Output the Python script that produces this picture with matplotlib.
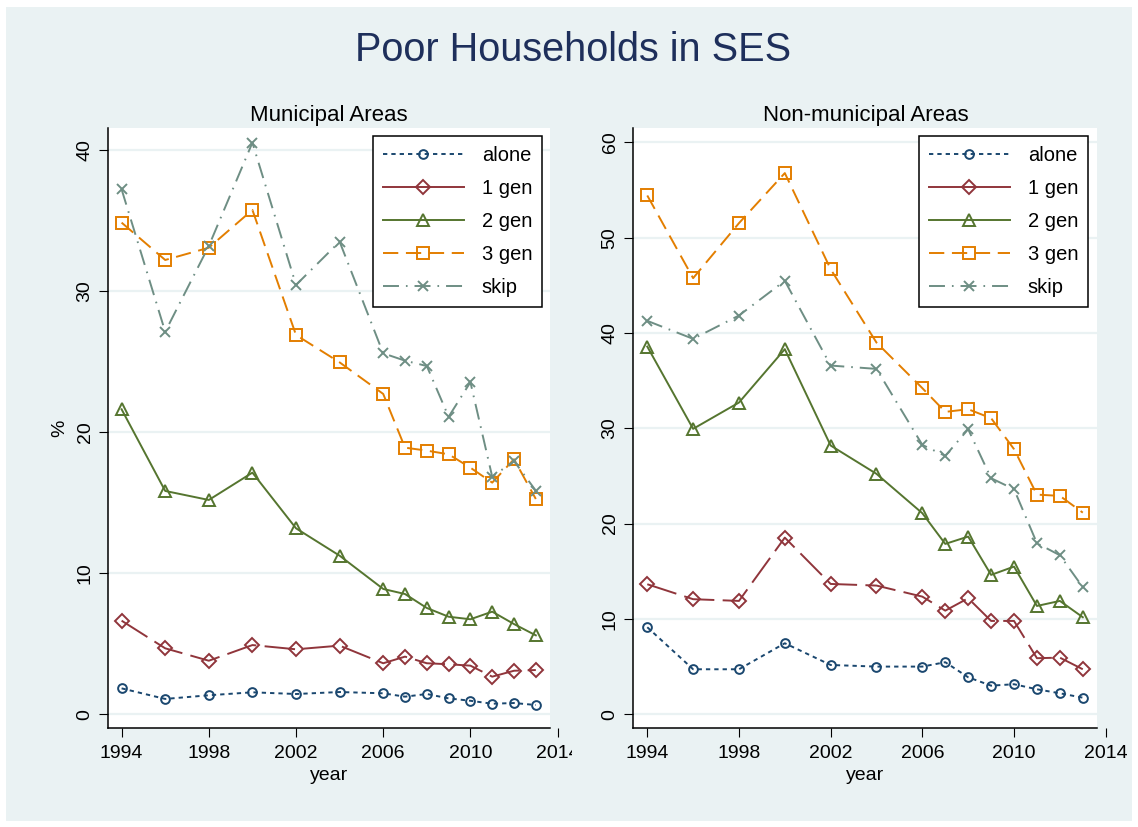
import numpy as np
import matplotlib.pyplot as plt
from matplotlib.patches import Rectangle
from matplotlib.lines import Line2D
from matplotlib.transforms import Bbox, TransformedBbox

plt.rcParams['font.family'] = ['Liberation Sans', 'DejaVu Sans']
plt.rcParams['lines.scale_dashes'] = False

# ---- data ----
years = [1994, 1996, 1998, 2000, 2002, 2004, 2006, 2007, 2008, 2009, 2010, 2011, 2012, 2013]
series_names = ['alone', '1 gen', '2 gen', '3 gen', 'skip']

muni_alone = [1.84, 1.09, 1.35, 1.56, 1.44, 1.58, 1.49, 1.25, 1.44, 1.13, 0.96, 0.75, 0.80, 0.66]
muni_gen1 = [6.64, 4.68, 3.80, 4.91, 4.61, 4.87, 3.62, 4.09, 3.62, 3.55, 3.45, 2.67, 3.09, 3.14]
muni_gen2 = [21.63, 15.84, 15.20, 17.14, 13.19, 11.25, 8.89, 8.53, 7.54, 6.92, 6.74, 7.28, 6.40, 5.60]
muni_gen3 = [34.87, 32.22, 33.09, 35.77, 26.90, 24.96, 22.72, 18.91, 18.70, 18.44, 17.49, 16.43, 18.09, 15.27]
muni_skip = [37.23, 27.13, 33.21, 40.54, 30.45, 33.52, 25.60, 25.08, 24.70, 21.10, 23.55, 16.85, 17.96, 15.86]

nonmuni_alone = [9.13, 4.72, 4.72, 7.45, 5.17, 5.00, 5.00, 5.46, 3.88, 3.00, 3.15, 2.62, 2.20, 1.74]
nonmuni_gen1 = [13.64, 12.07, 11.89, 18.53, 13.67, 13.50, 12.34, 10.87, 12.17, 9.79, 9.79, 5.88, 5.94, 4.72]
nonmuni_gen2 = [38.57, 29.94, 32.70, 38.30, 28.19, 25.22, 21.09, 17.87, 18.64, 14.62, 15.49, 11.36, 11.89, 10.18]
nonmuni_gen3 = [54.42, 45.75, 51.52, 56.77, 46.69, 38.99, 34.21, 31.72, 32.00, 31.06, 27.81, 23.04, 22.91, 21.15]
nonmuni_skip = [41.27, 39.38, 41.83, 45.47, 36.58, 36.23, 28.26, 27.10, 29.90, 24.76, 23.61, 17.94, 16.68, 13.33]

xticks = [1994, 1998, 2002, 2006, 2010, 2014]
muni_yticks = [0, 10, 20, 30, 40]
nonmuni_yticks = [0, 10, 20, 30, 40, 50, 60]

# ---- styles (stata s2color look) ----
bg = '#EAF2F3'
colors = ['#1A476F', '#90353B', '#55752F', '#E37E00', '#6E8E84']
markers = ['o', 'D', '^', 's', 'x']
msizes = [6.3, 7.2, 8.3, 8.0, 6.8]
styles = [(0, (3.1, 2.9)), (0, (22, 6)), '-', (0, (11, 5.5)), (0, (11.5, 5, 1.2, 5))]
legend_styles = [(0, (3.1, 2.9)), '-', '-', (0, (11, 5.5)), (0, (11.5, 5, 1.2, 5))]
LW = 1.4

W, H = 1138, 827
fig = plt.figure(figsize=(W / 100, H / 100), dpi=100, facecolor='white')
fig.add_artist(Rectangle((6 / W, 6 / H), 1 - 12 / W, 1 - 13 / H, transform=fig.transFigure,
                         facecolor=bg, edgecolor='none', zorder=-10))

fig.text(573 / W, 1 - 50 / H, 'Poor Households in SES', ha='center', va='center',
         fontsize=28.5, color='#1E2F5B')


def panel(rect, data, yticks, ylim, region_right, xlim_right, title, ylabel, leg_right):
    ax = fig.add_axes(rect)
    ax.set_facecolor('none')
    x0 = 1993.39
    ax.set_xlim(x0, xlim_right)
    ax.set_ylim(*ylim)
    ax.add_patch(Rectangle((x0, ylim[0]), region_right - x0, ylim[1] - ylim[0],
                           facecolor='white', edgecolor='none', zorder=0))
    ax.hlines(yticks, x0, region_right, color=bg, lw=1.6, zorder=0.5)

    for vals, c, m, ms, ls in zip(data, colors, markers, msizes, styles):
        ax.plot(years, vals, color=c, ls=ls, lw=LW, marker=m, ms=ms,
                mfc='none', mec=c, mew=1.4, zorder=2)

    for s in ['top', 'right']:
        ax.spines[s].set_visible(False)
    ax.spines['bottom'].set_bounds(x0, region_right)
    for s in ['left', 'bottom']:
        ax.spines[s].set_linewidth(1.1)

    ax.set_xticks(xticks)
    ax.set_yticks(yticks)
    ax.tick_params(axis='both', direction='out', length=6.5, width=0.8, labelsize=14)
    ax.tick_params(axis='x', pad=6)
    ax.tick_params(axis='y', pad=4, labelrotation=90)
    for lbl in ax.get_yticklabels():
        lbl.set_va('center')

    ax.set_xlabel('year', fontsize=14)
    ax.xaxis.set_label_coords(0.489, -0.066)
    if ylabel:
        ax.set_ylabel(ylabel, fontsize=14)
        ax.yaxis.set_label_coords(-0.088, 0.5)

    ax.text(0.489, 1 + 13 / (rect[3] * H), title, transform=ax.transAxes,
            ha='center', va='center', fontsize=16)

    handles = [Line2D([], [], color=c, ls=ls, lw=LW, marker=m, ms=ms, mfc='none', mec=c, mew=1.4)
               for c, m, ms, ls in zip(colors, markers, msizes, legend_styles)]
    leg = ax.legend(handles, series_names, loc='upper right',
                    bbox_to_anchor=(leg_right / W, 1 - 135.7 / H), bbox_transform=fig.transFigure,
                    borderaxespad=0, fontsize=14.5, handlelength=4.0, handletextpad=0.9,
                    borderpad=0.5, labelspacing=0.7, numpoints=1, fancybox=False,
                    framealpha=1, edgecolor='black')
    leg.get_frame().set_linewidth(1.1)
    return ax


axL = panel([108.3 / W, (H - 727.7) / H, 451.5 / W, 599.7 / H],
            [muni_alone, muni_gen1, muni_gen2, muni_gen3, muni_skip],
            muni_yticks, (-0.95, 41.58), 2013.65, 2014.1, 'Municipal Areas', '%', 542.3)

axR = panel([633.3 / W, (H - 727.7) / H, 474.7 / W, 599.7 / H],
            [nonmuni_alone, nonmuni_gen1, nonmuni_gen2, nonmuni_gen3, nonmuni_skip],
            nonmuni_yticks, (-1.41, 61.5), 2013.61, 2014.1, 'Non-municipal Areas', None, 1088.3)

# the last year label of the left panel is cut off by the panel edge
last = axL.xaxis.get_major_ticks()[-1].label1
last.set_clip_box(TransformedBbox(Bbox([[0, 0], [572 / W, 1]]), fig.transFigure))
last.set_clip_on(True)

fig.savefig('out.png', dpi=100, facecolor='white')
